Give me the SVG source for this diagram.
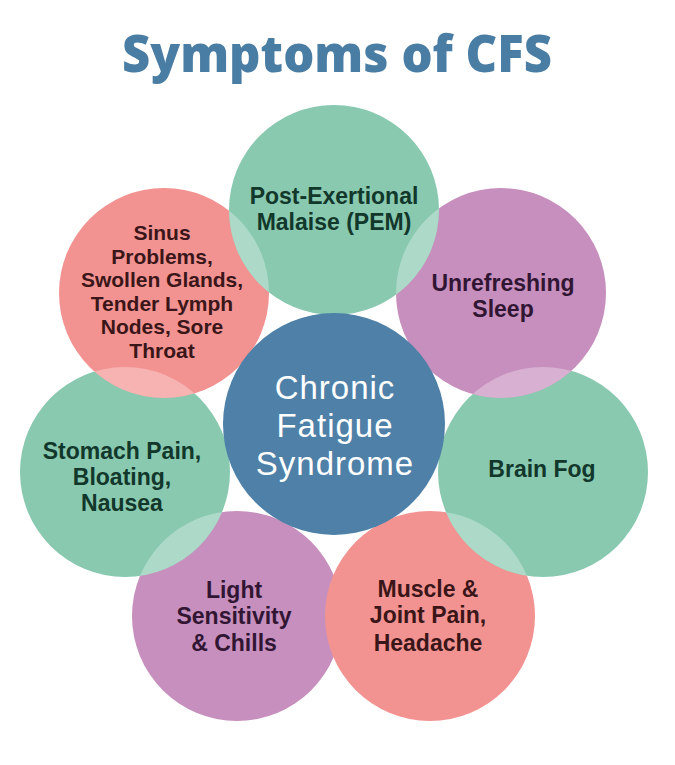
<svg xmlns="http://www.w3.org/2000/svg" width="675" height="765" viewBox="0 0 675 765">
<style>
.t{font-family:"Liberation Sans",Arial,sans-serif;font-weight:700;font-size:23px;text-anchor:middle}
.s{font-size:21px}
.tg{fill:#12372b}
.tp{fill:#3a1619}
.tu{fill:#311634}
.tc{font-family:"Liberation Sans",Arial,sans-serif;font-weight:400;font-size:33px;letter-spacing:1px;text-anchor:middle;fill:#ffffff}
.green{fill:#89c9b0}
.pink{fill:#f29391}
.purple{fill:#c78fbd}
.blue{fill:#4e80a8}
.ov{fill:#ffffff;opacity:.3}
</style>
<defs>
<clipPath id="cUL"><circle cx="164" cy="293" r="105"/></clipPath>
<clipPath id="cUR"><circle cx="501" cy="293" r="105"/></clipPath>
<clipPath id="cL"><circle cx="125" cy="472" r="105"/></clipPath>
<clipPath id="cR"><circle cx="543" cy="472" r="105"/></clipPath>
<clipPath id="cBL"><circle cx="237" cy="616" r="105"/></clipPath>
<clipPath id="cBR"><circle cx="430" cy="616" r="105"/></clipPath>
</defs>
<rect width="675" height="765" fill="#ffffff"/>
<text x="337" y="72" font-family="'Open Sans','Liberation Sans',sans-serif" font-weight="800" font-size="52" fill="#4a7da3" text-anchor="middle" textLength="430" lengthAdjust="spacingAndGlyphs">Symptoms of CFS</text>
<g id="connectors"/>
<g id="light-sensitivity">
<circle class="purple" cx="237" cy="616" r="105"/>
</g>
<g id="muscle-joint-pain">
<circle class="pink" cx="430" cy="616" r="105"/>
</g>
<g id="stomach-pain">
<circle class="green" cx="125" cy="472" r="105"/>
</g>
<g id="brain-fog">
<circle class="green" cx="543" cy="472" r="105"/>
</g>
<g id="sinus-problems">
<circle class="pink" cx="164" cy="293" r="105"/>
</g>
<g id="unrefreshing-sleep">
<circle class="purple" cx="501" cy="293" r="105"/>
</g>
<g id="pem">
<circle class="green" cx="334" cy="210" r="105"/>
</g>
<g id="overlaps">
<circle class="ov" cx="334" cy="210" r="105" clip-path="url(#cUL)"/>
<circle class="ov" cx="334" cy="210" r="105" clip-path="url(#cUR)"/>
<circle class="ov" cx="164" cy="293" r="105" clip-path="url(#cL)"/>
<circle class="ov" cx="501" cy="293" r="105" clip-path="url(#cR)"/>
<circle class="ov" cx="125" cy="472" r="105" clip-path="url(#cBL)"/>
<circle class="ov" cx="543" cy="472" r="105" clip-path="url(#cBR)"/>
</g>
<g id="cfs">
<circle class="blue" cx="334" cy="424" r="111"/>
<text class="tc" x="335" y="399">Chronic</text>
<text class="tc" x="335" y="437">Fatigue</text>
<text class="tc" x="335" y="475">Syndrome</text>
</g>
<g id="labels">
<text class="t tg" x="334" y="204">Post-Exertional</text>
<text class="t tg" x="334" y="230">Malaise (PEM)</text>
<text class="t tp s" x="162" y="240">Sinus</text>
<text class="t tp s" x="162" y="263.6">Problems,</text>
<text class="t tp s" x="162" y="287.2">Swollen Glands,</text>
<text class="t tp s" x="162" y="310.8">Tender Lymph</text>
<text class="t tp s" x="162" y="334.4">Nodes, Sore</text>
<text class="t tp s" x="162" y="358">Throat</text>
<text class="t tu" x="503" y="291">Unrefreshing</text>
<text class="t tu" x="503" y="317">Sleep</text>
<text class="t tg" x="122" y="459">Stomach Pain,</text>
<text class="t tg" x="122" y="485">Bloating,</text>
<text class="t tg" x="122" y="511">Nausea</text>
<text class="t tg" x="542" y="477">Brain Fog</text>
<text class="t tu" x="234" y="598">Light</text>
<text class="t tu" x="234" y="624">Sensitivity</text>
<text class="t tu" x="234" y="651">&amp; Chills</text>
<text class="t tp" x="428" y="597">Muscle &amp;</text>
<text class="t tp" x="428" y="623">Joint Pain,</text>
<text class="t tp" x="428" y="651">Headache</text>
</g>
</svg>
